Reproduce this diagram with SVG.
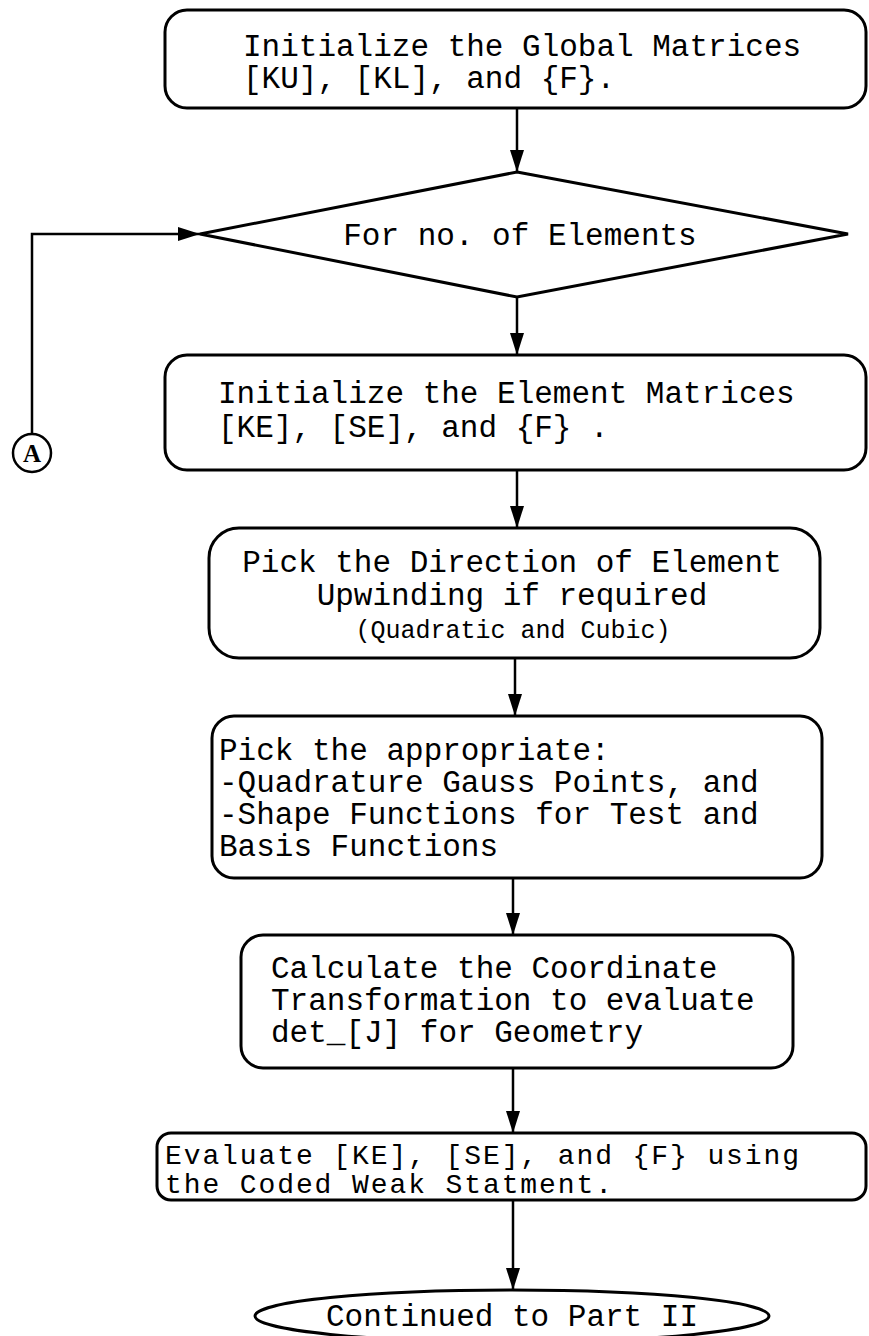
<svg xmlns="http://www.w3.org/2000/svg" width="869" height="1336" viewBox="0 0 869 1336">
<style>
.box{fill:#fff;stroke:#000;stroke-width:3}
.t{font-family:"Liberation Mono","Courier New",monospace;font-size:31px;fill:#000}
.s{font-family:"Liberation Mono","Courier New",monospace;font-size:25px;fill:#000}
.e{font-family:"Liberation Mono","Courier New",monospace;font-size:28px;letter-spacing:1.9px;fill:#000}
.c{stroke:#000;stroke-width:2.5;fill:none}
</style>
<defs>
<marker id="ah" markerWidth="22" markerHeight="14" refX="22" refY="7" orient="auto" markerUnits="userSpaceOnUse">
<path d="M0,0 L22,7 L0,14 Z" fill="#000"/>
</marker>
</defs>
<rect width="869" height="1336" fill="#fff"/>
<g id="connectors">
<line class="c" x1="517" y1="108" x2="517" y2="172" marker-end="url(#ah)"/>
<line class="c" x1="517" y1="297" x2="517" y2="355" marker-end="url(#ah)"/>
<line class="c" x1="517" y1="470" x2="517" y2="528" marker-end="url(#ah)"/>
<line class="c" x1="515" y1="658" x2="515" y2="716" marker-end="url(#ah)"/>
<line class="c" x1="513" y1="878" x2="513" y2="935" marker-end="url(#ah)"/>
<line class="c" x1="513" y1="1068" x2="513" y2="1133" marker-end="url(#ah)"/>
<line class="c" x1="513" y1="1200" x2="513" y2="1290" marker-end="url(#ah)"/>
<polyline class="c" points="32,434 32,234 200,234" marker-end="url(#ah)"/>
</g>
<g id="n1">
<rect class="box" x="165" y="10" width="701" height="98" rx="22"/>
<text class="t" x="243" y="56">Initialize the Global Matrices</text>
<text class="t" x="243" y="88">[KU], [KL], and {F}.</text>
</g>
<g id="n2">
<polygon class="box" points="517,172 848,234 517,297 200,234"/>
<text class="t" x="520" y="245" text-anchor="middle">For no. of Elements</text>
</g>
<g id="nA">
<circle cx="32" cy="453" r="19" fill="#fff" stroke="#000" stroke-width="2.5"/>
<text x="32" y="462" text-anchor="middle" font-family="Liberation Serif,serif" font-weight="bold" font-size="25">A</text>
</g>
<g id="n3">
<rect class="box" x="165" y="355" width="701" height="115" rx="22"/>
<text class="t" x="218" y="403">Initialize the Element Matrices</text>
<text class="t" x="218" y="437">[KE], [SE], and {F} .</text>
</g>
<g id="n4">
<rect class="box" x="209" y="528" width="611" height="130" rx="30"/>
<text class="t" x="512" y="572" text-anchor="middle">Pick the Direction of Element</text>
<text class="t" x="512" y="605" text-anchor="middle">Upwinding if required</text>
<text class="s" x="513" y="638" text-anchor="middle">(Quadratic and Cubic)</text>
</g>
<g id="n5">
<rect class="box" x="212" y="716" width="610" height="162" rx="22"/>
<text class="t" x="219" y="760">Pick the appropriate:</text>
<text class="t" x="219" y="792">-Quadrature Gauss Points, and</text>
<text class="t" x="219" y="824">-Shape Functions for Test and</text>
<text class="t" x="219" y="856">Basis Functions</text>
</g>
<g id="n6">
<rect class="box" x="241" y="935" width="552" height="133" rx="22"/>
<text class="t" x="271" y="978">Calculate the Coordinate</text>
<text class="t" x="271" y="1010">Transformation to evaluate</text>
<text class="t" x="271" y="1042">det_[J] for Geometry</text>
</g>
<g id="n7">
<rect class="box" x="157" y="1133" width="709" height="67" rx="14"/>
<text class="e" x="165" y="1164">Evaluate [KE], [SE], and {F} using</text>
<text class="e" x="165" y="1193">the Coded Weak Statment.</text>
</g>
<g id="n8">
<ellipse class="box" cx="512" cy="1316" rx="257" ry="26"/>
<text class="t" x="512" y="1326" text-anchor="middle">Continued to Part II</text>
</g>
</svg>
